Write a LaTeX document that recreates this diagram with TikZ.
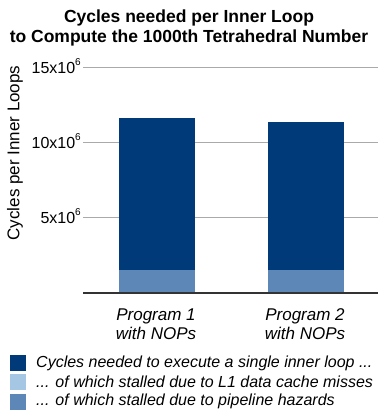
\documentclass[tikz,border=0pt]{standalone}
\usepackage{fontspec}
\setmainfont{Liberation Sans}
\definecolor{cdark}{HTML}{013A79}
\definecolor{clight}{HTML}{A5C7E3}
\definecolor{cmed}{HTML}{5D87B7}
\definecolor{cgrid}{HTML}{AAAAAA}
\definecolor{caxis}{HTML}{333333}
\newcommand{\sixp}{\raisebox{0.45em}{\fontsize{10}{10}\selectfont 6}}
\tikzset{
  gridline/.style={cgrid, line width=1pt},
  ticklab/.style={anchor=east, inner sep=0pt, font=\fontsize{16}{16}\selectfont},
  catlab/.style={align=center, inner sep=0pt, font=\fontsize{17}{19}\selectfont\itshape},
  legbox/.style={minimum width=16pt, minimum height=16pt, inner sep=0pt, draw=none},
  legtext/.style={anchor=west, inner sep=0pt, font=\fontsize{16}{16}\selectfont\itshape},
  bar/.style={draw=none}
}
\begin{document}
\begin{tikzpicture}[x=1pt,y=-1pt]
\useasboundingbox (0,0) rectangle (378,412);
% title
\node[font=\fontsize{17.5}{20}\selectfont\bfseries, align=center, inner sep=0pt] (title) at (189,28)
  {Cycles needed per Inner Loop\\to Compute the 1000th Tetrahedral Number};
% grid
\draw[gridline] (83,67.7) -- (378,67.7);
\draw[gridline] (83,142.7) -- (378,142.7);
\draw[gridline] (83,217.7) -- (378,217.7);
\node[ticklab] (t15) at (81,66) {15x10\sixp};
\node[ticklab] (t10) at (81,141) {10x10\sixp};
\node[ticklab] (t5) at (81,216) {5x10\sixp};
% y label
\node[rotate=90, inner sep=0pt, font=\fontsize{17}{17}\selectfont] (ylab) at (15,153) {Cycles per Inner Loops};
% bars
\fill[cdark] (119,117.7) rectangle (195,292.7);
\fill[cmed] (119,270) rectangle (195,292.7);
\fill[cdark] (268,122) rectangle (344,292.7);
\fill[cmed] (268,270) rectangle (344,292.7);
% axis
\draw[caxis, line width=1.6pt] (83,292.7) -- (378,292.7);
% category labels
\node[catlab] (p1) at (156,324) {Program 1\\with NOPs};
\node[catlab] (p2) at (305,324) {Program 2\\with NOPs};
% legend
\node[legbox, fill=cdark] (l1) at (18,363) {};
\node[legbox, fill=clight] (l2) at (18,382) {};
\node[legbox, fill=cmed] (l3) at (18,402) {};
\node[legtext] (lt1) at (36,363) {Cycles needed to execute a single inner loop ...};
\node[legtext] (lt2) at (36,382) {... of which stalled due to L1 data cache misses};
\node[legtext] (lt3) at (36,401) {... of which stalled due to pipeline hazards};
\end{tikzpicture}
\end{document}
